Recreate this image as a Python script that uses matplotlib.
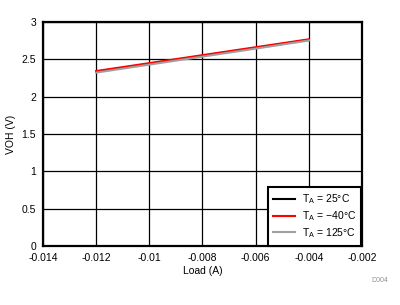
import numpy as np
import matplotlib.pyplot as plt

plt.rcParams['font.family'] = ['Liberation Sans', 'DejaVu Sans']

# Load current (A) and VOH (V) per temperature
load = [-0.012, -0.010, -0.008, -0.006, -0.004]
voh_25 = [2.335, 2.440, 2.547, 2.653, 2.760]
voh_m40 = [2.343, 2.449, 2.556, 2.662, 2.768]
voh_125 = [2.322, 2.429, 2.536, 2.643, 2.752]

xticks = [-0.014, -0.012, -0.01, -0.008, -0.006, -0.004, -0.002]
xticklabels = ['-0.014', '-0.012', '-0.01', '-0.008', '-0.006', '-0.004', '-0.002']
yticks = [0, 0.5, 1, 1.5, 2, 2.5, 3]
yticklabels = ['0', '0.5', '1', '1.5', '2', '2.5', '3']

fig = plt.figure(figsize=(4, 3.05), dpi=100)
ax = fig.add_axes([0.1075, 0.193, 0.7975, 0.735])

ax.plot(load, voh_25, color='black', lw=1.5, label=r'T$_\mathregular{A}$ = 25°C')
ax.plot(load, voh_m40, color='#ff0000', lw=1.5, label=r'T$_\mathregular{A}$ = −40°C')
ax.plot(load, voh_125, color='#a0a0a0', lw=1.5, label=r'T$_\mathregular{A}$ = 125°C')

ax.set_xlim(-0.014, -0.002)
ax.set_ylim(0, 3)
ax.set_xticks(xticks)
ax.set_xticklabels(xticklabels)
ax.set_yticks(yticks)
ax.set_yticklabels(yticklabels)
ax.tick_params(length=0, labelsize=7.5, pad=5)
ax.grid(True, color='black', lw=0.9)
ax.set_axisbelow(True)
for s in ax.spines.values():
    s.set_linewidth(1.6)

ax.set_xlabel('Load (A)', fontsize=7.5, labelpad=2)
ax.set_ylabel('VOH (V)', fontsize=7.5, labelpad=4)

leg = ax.legend(loc='lower right', fontsize=7.5,
                fancybox=False, framealpha=1, edgecolor='black',
                handlelength=2.1, handletextpad=0.6, borderpad=0.55,
                labelspacing=0.3, borderaxespad=0.05)
leg.get_frame().set_linewidth(1.5)

fig.text(0.95, 0.075, 'D004', fontsize=5, color='#909090', ha='center')

fig.savefig('out.png', dpi=100)
